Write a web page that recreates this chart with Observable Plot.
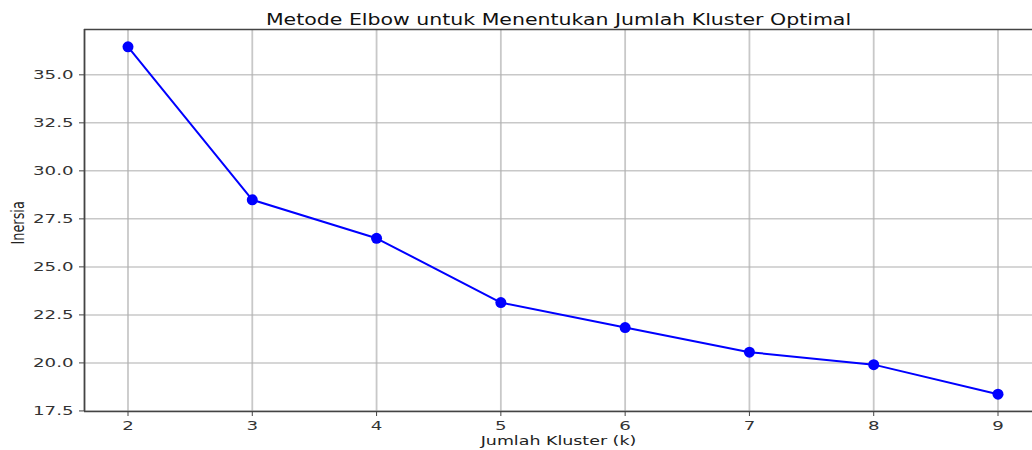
<!DOCTYPE html>
<html>
<head>
<meta charset="utf-8">
<script src="https://cdn.jsdelivr.net/npm/d3@7"></script>
<script src="https://cdn.jsdelivr.net/npm/@observablehq/plot@0.6"></script>
<style>
  html, body { margin: 0; padding: 0; background: #fff; }
  #chart svg { display: block; }
</style>
</head>
<body>
<div id="chart"></div>
<script>
const titleText = "Metode Elbow untuk Menentukan Jumlah Kluster Optimal";
const xLabel = "Jumlah Kluster (k)";
const yLabel = "Inersia";
const clusters = [2, 3, 4, 5, 6, 7, 8, 9];
const inertia = [36.46, 28.49, 26.49, 23.14, 21.84, 20.56, 19.91, 18.37];
const xTicks = [2, 3, 4, 5, 6, 7, 8, 9];
const yTicks = [17.5, 20.0, 22.5, 25.0, 27.5, 30.0, 32.5, 35.0];
const xDomain = [1.65, 9.35];
const yDomain = [17.47, 37.36];

const data = clusters.map((k, i) => ({k, v: inertia[i]}));

const plot = Plot.plot({
  width: 1032,
  height: 450,
  marginTop: 29,
  marginBottom: 39,
  marginLeft: 84,
  marginRight: 0,
  style: {fontFamily: "DejaVu Sans", fontSize: "13px", color: "#333", background: "#fff"},
  x: {domain: xDomain, range: [84, 1041]},
  y: {domain: yDomain},
  marks: [
    Plot.gridX(xTicks, {stroke: "#b0b0b0", strokeOpacity: 0.7, strokeWidth: 1.8}),
    Plot.gridY(yTicks, {stroke: "#b0b0b0", strokeOpacity: 0.7, strokeWidth: 1.5}),
    Plot.ruleX([xDomain[0]], {stroke: "#444", strokeWidth: 1.8}),
    Plot.ruleY(yDomain, {stroke: "#444", strokeWidth: 1.6}),
    Plot.axisX({ticks: xTicks, tickFormat: d => String(d), tickSize: 5, tickPadding: 4, fontSize: 13, label: null, stroke: "#444"}),
    Plot.axisY({ticks: yTicks, tickFormat: d3.format(".1f"), tickSize: 5, tickPadding: 6, fontSize: 13, label: null, stroke: "#444"}),
    Plot.line(data, {x: "k", y: "v", stroke: "#0000ff", strokeWidth: 2}),
    Plot.dot(data, {x: "k", y: "v", fill: "#0000ff", r: 5.5}),
    Plot.text([titleText], {frameAnchor: "top", dy: -16, text: d => d, fontSize: 16, fill: "#111"}),
    Plot.text([xLabel], {frameAnchor: "bottom", dy: 33, text: d => d, fontSize: 13, fill: "#222"}),
    Plot.text([yLabel], {frameAnchor: "left", dx: -66, dy: 24, rotate: -90, text: d => d, fontSize: 18, fill: "#222"})
  ]
});
document.getElementById("chart").appendChild(plot);

// emulate the reference's horizontally stretched text via textLength
function stretchEls(els, factor) {
  els.forEach(t => {
    const len = t.getComputedTextLength();
    if (len > 0) {
      t.setAttribute("textLength", (len * factor).toFixed(2));
      t.setAttribute("lengthAdjust", "spacingAndGlyphs");
    }
  });
}
stretchEls(plot.querySelectorAll('g[aria-label="x-axis tick label"] text'), 1.4);
stretchEls(plot.querySelectorAll('g[aria-label="y-axis tick label"] text'), 1.4);
const textGroups = Array.from(plot.querySelectorAll('g[aria-label="text"]'));
if (textGroups.length >= 3) {
  stretchEls(textGroups[0].querySelectorAll("text"), 1.28);
  stretchEls(textGroups[1].querySelectorAll("text"), 1.34);
  stretchEls(textGroups[2].querySelectorAll("text"), 1 / 1.4);
}
</script>
</body>
</html>
